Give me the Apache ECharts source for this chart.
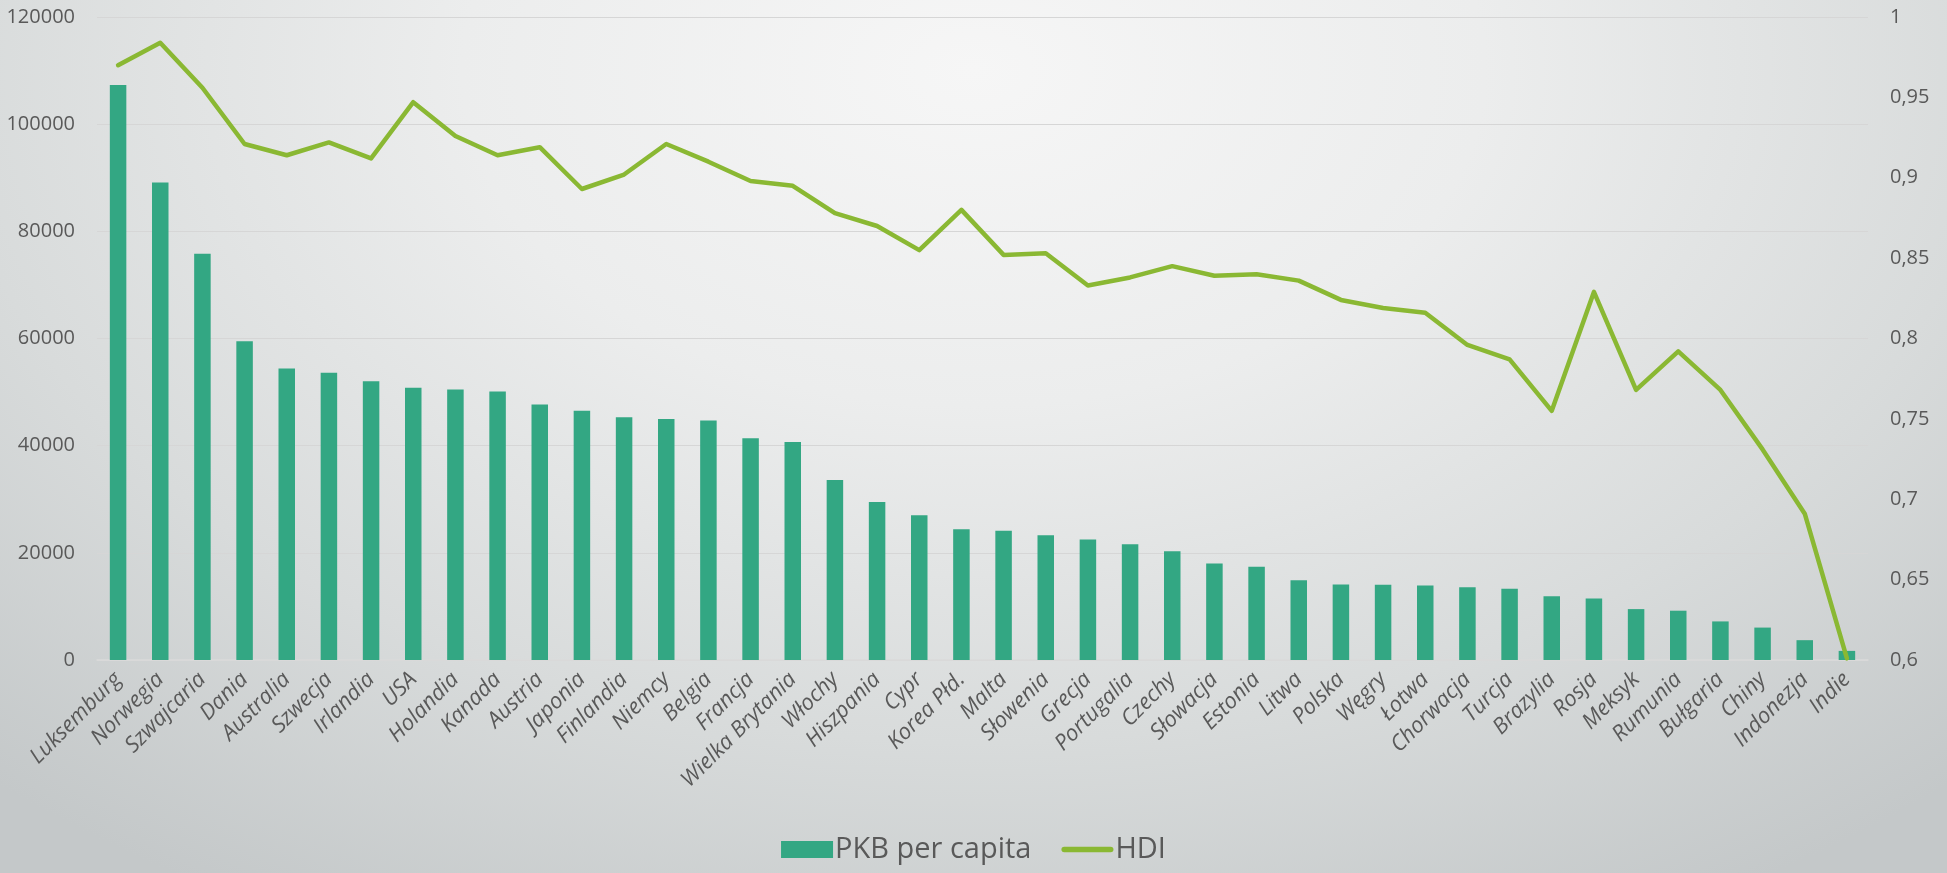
<!DOCTYPE html>
<html>
<head>
<meta charset="utf-8">
<script src="https://cdn.jsdelivr.net/npm/echarts@6/dist/echarts.min.js"></script>
<style>
  html, body { margin: 0; padding: 0; }
  body {
    width: 1947px; height: 873px;
    background: radial-gradient(ellipse 75% 110% at 50% 8%, #f6f6f6 0%, #eceded 35%, #d8dbdb 70%, #c4c8c9 100%);
  }
  #chart { width: 1947px; height: 873px; }
</style>
</head>
<body>
<div id="chart"></div>
<script>
// kraje, PKB per capita (USD) i HDI
var countries = ['Luksemburg', 'Norwegia', 'Szwajcaria', 'Dania', 'Australia', 'Szwecja', 'Irlandia', 'USA',
  'Holandia', 'Kanada', 'Austria', 'Japonia', 'Finlandia', 'Niemcy', 'Belgia', 'Francja', 'Wielka Brytania',
  'Włochy', 'Hiszpania', 'Cypr', 'Korea Płd.', 'Malta', 'Słowenia', 'Grecja', 'Portugalia', 'Czechy',
  'Słowacja', 'Estonia', 'Litwa', 'Polska', 'Węgry', 'Łotwa', 'Chorwacja', 'Turcja', 'Brazylia', 'Rosja',
  'Meksyk', 'Rumunia', 'Bułgaria', 'Chiny', 'Indonezja', 'Indie']

var pkb = [107300, 89100, 75800, 59500, 54400, 53600, 52000, 50800, 50500, 50100, 47700, 46500, 45300,
  45000, 44700, 41400, 40700, 33600, 29500, 27000, 24400, 24100, 23300, 22500, 21600, 20300, 18000, 17400,
  14900, 14100, 14050, 13900, 13600, 13300, 11900, 11500, 9500, 9200, 7200, 6050, 3700, 1700]

var hdi = [0.970, 0.984, 0.956, 0.921, 0.914, 0.922, 0.912, 0.947, 0.926, 0.914, 0.919, 0.893, 0.902,
  0.921, 0.910, 0.898, 0.895, 0.878, 0.870, 0.855, 0.880, 0.852, 0.853, 0.833, 0.838, 0.845, 0.839, 0.840,
  0.836, 0.824, 0.819, 0.816, 0.796, 0.787, 0.755, 0.829, 0.768, 0.792, 0.768, 0.731, 0.691, 0.601]

var chart = echarts.init(document.getElementById('chart'))
var textColor = '#595959'
var font = '"Open Sans", "Noto Sans", sans-serif'

chart.setOption({
  backgroundColor: 'transparent',
  animation: false,
  textStyle: { fontFamily: font },
  grid: {
    left: 97,
    right: 79,
    top: 17,
    bottom: 213,
    containLabel: false,
    outerBoundsMode: 'none'
  },
  legend: {
    data: [
      { name: 'PKB per capita', icon: 'rect' },
      { name: 'HDI', icon: 'path://M3,0 L53,0 A3,3 0 0 1 53,6 L3,6 A3,3 0 0 1 3,0 Z' }
    ],
    left: 'center',
    top: 835,
    padding: 0,
    itemWidth: 52,
    itemHeight: 17,
    itemGap: 30,
    textStyle: { color: textColor, fontSize: 29, fontFamily: font, padding: [0, 0, 0, -3] }
  },
  xAxis: {
    type: 'category',
    data: countries,
    axisTick: { show: false },
    axisLine: { lineStyle: { color: '#dadada', width: 1.5 } },
    axisLabel: {
      interval: 0,
      rotate: 45,
      margin: 16,
      color: textColor,
      fontSize: 22,
      fontStyle: 'italic',
      fontFamily: font
    }
  },
  yAxis: [
    {
      type: 'value',
      min: 0,
      max: 120000,
      interval: 20000,
      axisLine: { show: false },
      axisTick: { show: false },
      splitLine: { lineStyle: { color: '#d6d6d6', width: 1.2 } },
      axisLabel: {
        color: textColor,
        fontSize: 20,
        margin: 22,
        fontFamily: font,
        formatter: function (v) { return String(v) }
      }
    },
    {
      type: 'value',
      min: 0.6,
      max: 1,
      interval: 0.05,
      axisLine: { show: false },
      axisTick: { show: false },
      splitLine: { show: false },
      axisLabel: {
        color: textColor,
        fontSize: 20,
        margin: 22,
        fontFamily: font,
        formatter: function (v) {
          return String(+v.toFixed(2)).replace('.', ',')
        }
      }
    }
  ],
  series: [
    {
      name: 'PKB per capita',
      type: 'bar',
      data: pkb,
      barWidth: 16.5,
      itemStyle: { color: '#33a783' }
    },
    {
      name: 'HDI',
      type: 'line',
      yAxisIndex: 1,
      data: hdi,
      symbol: 'none',
      lineStyle: { color: '#8ab833', width: 4.5, cap: 'round', join: 'round' },
      itemStyle: { color: '#8ab833' }
    }
  ]
})
</script>
</body>
</html>
